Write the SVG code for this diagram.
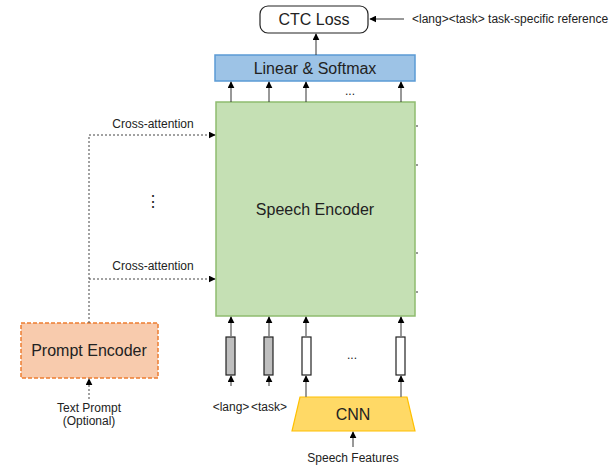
<svg xmlns="http://www.w3.org/2000/svg" width="616" height="465" viewBox="0 0 616 465">
<defs>
<marker id="ah" viewBox="0 0 10 10" refX="9" refY="5" markerWidth="7" markerHeight="7" markerUnits="userSpaceOnUse" orient="auto"><path d="M0,0 L10,5 L0,10 z" fill="#000"/></marker>
<style>
text{font-family:"Liberation Sans",Arial,sans-serif;fill:#222;text-anchor:middle}
.big{font-size:16px}
.sm{font-size:12px}
.ln{stroke:#333;stroke-width:1;fill:none}
.gr{stroke:#777;stroke-width:1.5;fill:none}
.dot{stroke:#444;stroke-width:1;stroke-dasharray:2,2;fill:none}
</style>
</defs>
<rect width="616" height="465" fill="#fff"/>
<g id="ctc"><rect x="260" y="6" width="108" height="27" rx="8" fill="#fff" stroke="#222" stroke-width="1.2"/><text class="big" x="314" y="25">CTC Loss</text></g>
<g id="ref"><text class="sm" x="412" y="23" style="text-anchor:start">&lt;lang&gt;&lt;task&gt; task-specific reference</text></g>
<g id="linear"><rect x="215" y="55" width="200" height="26" fill="#9dc3e6" stroke="#5b9bd5" stroke-width="1.5"/><text class="big" x="315" y="74">Linear &amp; Softmax</text></g>
<g id="encoder"><rect x="216" y="102" width="199" height="214" fill="#c5e0b4" stroke="#8fbc6f" stroke-width="1.5"/><text class="big" x="315" y="215">Speech Encoder</text></g>
<g id="prompt"><rect x="21" y="323" width="137" height="55" fill="#f8cbad" stroke="#ed7d31" stroke-width="1.5" stroke-dasharray="4,2"/><text class="big" x="89" y="356">Prompt Encoder</text></g>
<g id="cnn"><polygon points="300,397 407,397 415,431 292,431" fill="#ffd966" stroke="#ffc000" stroke-width="1.2"/><text class="big" x="353" y="420">CNN</text></g>
<g id="tok1"><rect x="226" y="337" width="9" height="38" fill="#bfbfbf" stroke="#222" stroke-width="1.2"/></g>
<g id="tok2"><rect x="264" y="337" width="9" height="38" fill="#bfbfbf" stroke="#222" stroke-width="1.2"/></g>
<g id="tok3"><rect x="302" y="337" width="9" height="38" fill="#fff" stroke="#222" stroke-width="1.2"/></g>
<g id="tok4"><rect x="396" y="337" width="9" height="38" fill="#fff" stroke="#222" stroke-width="1.2"/></g>
<g id="labels">
<text class="sm" x="153" y="128">Cross-attention</text>
<text class="sm" x="153" y="270">Cross-attention</text>
<text class="big" x="153" y="207">⋮</text>
<text class="sm" x="350" y="95">...</text>
<text class="sm" x="352" y="359">...</text>
<text class="sm" x="231" y="411">&lt;lang&gt;</text>
<text class="sm" x="269" y="411">&lt;task&gt;</text>
<text class="sm" x="353" y="462">Speech Features</text>
<text class="sm" x="89" y="412">Text Prompt</text>
<text class="sm" x="89" y="425">(Optional)</text>
</g>
<g id="connectors">
<line class="ln" x1="404" y1="19" x2="370" y2="19" marker-end="url(#ah)"/>
<line class="ln" x1="316" y1="55" x2="316" y2="34" marker-end="url(#ah)"/>
<line class="ln" x1="231" y1="102" x2="231" y2="82" marker-end="url(#ah)"/>
<line class="ln" x1="269" y1="102" x2="269" y2="82" marker-end="url(#ah)"/>
<line class="ln" x1="306" y1="102" x2="306" y2="82" marker-end="url(#ah)"/>
<line class="ln" x1="401" y1="102" x2="401" y2="82" marker-end="url(#ah)"/>
<line class="gr" x1="231" y1="337" x2="231" y2="317" marker-end="url(#ah)"/>
<line class="gr" x1="269" y1="337" x2="269" y2="317" marker-end="url(#ah)"/>
<line class="gr" x1="306" y1="337" x2="306" y2="317" marker-end="url(#ah)"/>
<line class="gr" x1="401" y1="337" x2="401" y2="317" marker-end="url(#ah)"/>
<line class="gr" x1="231" y1="386" x2="231" y2="376" marker-end="url(#ah)"/>
<line class="gr" x1="269" y1="386" x2="269" y2="376" marker-end="url(#ah)"/>
<line class="gr" x1="306" y1="397" x2="306" y2="376" marker-end="url(#ah)"/>
<line class="gr" x1="401" y1="397" x2="401" y2="376" marker-end="url(#ah)"/>
<line class="ln" x1="353" y1="447" x2="353" y2="432" marker-end="url(#ah)"/>
<path class="dot" d="M89,323 V135 H215" marker-end="url(#ah)"/>
<path class="dot" d="M89,279 H215" marker-end="url(#ah)"/>
<line class="dot" x1="89" y1="399" x2="89" y2="379" marker-end="url(#ah)"/>
<g stroke="#333" stroke-width="1.2"><line x1="416" y1="126" x2="418" y2="126"/><line x1="416" y1="165" x2="418" y2="165"/><line x1="416" y1="253" x2="418" y2="253"/><line x1="416" y1="292" x2="418" y2="292"/></g>
</g>
</svg>
